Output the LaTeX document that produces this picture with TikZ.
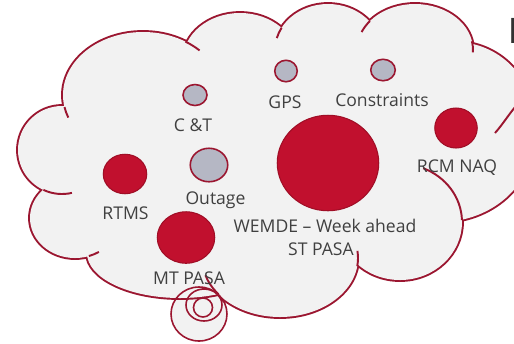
\documentclass[tikz,border=0pt]{standalone}
\usepackage{fontspec}
\setmainfont{Open Sans}
\usetikzlibrary{shapes.geometric}

\definecolor{cloudline}{RGB}{155,22,48}
\definecolor{cloudfill}{RGB}{242,242,242}
\definecolor{ballred}{RGB}{193,16,46}
\definecolor{balledge}{RGB}{160,14,38}
\definecolor{ballgrey}{RGB}{181,183,196}
\definecolor{labelgrey}{RGB}{64,64,64}

% the bumps of the cloud, in pixels (y downwards)
\newcommand\cloudbumps{
  (62,150) circle[radius=44]
  (75,218) ellipse[x radius=45, y radius=40]
  (143,95) ellipse[x radius=80, y radius=63]
  (240,60) ellipse[x radius=57, y radius=47]
  (328,50) ellipse[x radius=53, y radius=46]
  (415,50) ellipse[x radius=58, y radius=46]
  (455,121) circle[radius=79]
  (440,140) ellipse[x radius=93, y radius=82]
  (400,222) ellipse[x radius=62, y radius=58]
  (280,258) ellipse[x radius=78, y radius=59]
  (180,253) ellipse[x radius=93, y radius=45]
}
\newcommand\puffs{
  (199,314) ellipse[x radius=28, y radius=27]
  (204,305) ellipse[x radius=18, y radius=16]
  (203,307.5) circle[radius=9.5]
}

\tikzset{
  bump/.style={draw=cloudline, line width=2.2pt},
  stub/.style={draw=cloudline, line width=1.1pt},
  puff/.style={draw=cloudline, line width=0.9pt},
  redball/.style={ellipse, draw=balledge, fill=ballred, line width=0.6pt, inner sep=0pt},
  greyball/.style={ellipse, draw=cloudline, fill=ballgrey, line width=0.9pt, inner sep=0pt},
  lbl/.style={anchor=base, text=labelgrey, inner sep=0pt, font=\fontsize{10}{12}\selectfont},
}

\begin{document}
\begin{tikzpicture}[x=0.02cm, y=-0.02cm]
\useasboundingbox (0,0) rectangle (514,343);

% cloud: outer half of a wide stroke is left after the fill
\fill[cloudfill] \puffs;
\draw[bump] \cloudbumps;
\fill[cloudfill] \cloudbumps;
\fill[cloudfill] (43,188) -- (64,107) -- (185,42) -- (282,28) -- (370,21) -- (472,43)
  -- (500,100) -- (461,220) -- (357,264) -- (218,294) -- (88,257) -- cycle;
\draw[puff] \puffs;

% inner strokes of the cloud
\draw[stub] (62,150) ++(115:44) arc[start angle=115, end angle=77, radius=44];
\draw[stub] (143,95) ++(169:80 and 63) arc[start angle=169, end angle=159, x radius=80, y radius=63];
\draw[stub] (143,95) ++(-58:80 and 63) arc[start angle=-58, end angle=-45, x radius=80, y radius=63];
\draw[stub] (328,50) ++(209:53 and 46) arc[start angle=209, end angle=195, x radius=53, y radius=46];
\draw[stub] (415,50) ++(219:58 and 46) arc[start angle=219, end angle=203, x radius=58, y radius=46];
\draw[stub] (415,50) ++(-11:58 and 46) arc[start angle=-11, end angle=3, x radius=58, y radius=46];
\draw[stub] (495,133) .. controls (503,124) and (509,114) .. (516,106);
\draw[stub] (400,222) ++(-68:62 and 58) arc[start angle=-68, end angle=-2, x radius=62, y radius=58];
\draw[stub] (280,258) ++(-7:78 and 59) arc[start angle=-7, end angle=8, x radius=78, y radius=59];
\draw[stub] (280,258) ++(142:78 and 59) arc[start angle=142, end angle=163, x radius=78, y radius=59];
\draw[stub] (75,218) ++(72:45 and 40) arc[start angle=72, end angle=58, x radius=45, y radius=40];

% bubbles
\node[greyball, minimum width=0.48cm, minimum height=0.42cm] (ct) at (195,95) {};
\node[greyball, minimum width=0.45cm, minimum height=0.43cm] (gps) at (286,71) {};
\node[greyball, minimum width=0.49cm, minimum height=0.43cm] (constraints) at (383,70) {};
\node[greyball, minimum width=0.75cm, minimum height=0.67cm] (outage) at (209,165) {};
\node[redball, minimum width=0.87cm, minimum height=0.79cm] (rtms) at (125,174) {};
\node[redball, minimum width=0.85cm, minimum height=0.80cm] (rcm) at (456,128) {};
\node[redball, minimum width=2.03cm, minimum height=1.91cm] (wemde) at (328,163) {};
\node[redball, minimum width=1.15cm, minimum height=1.03cm] (mtpasa) at (186,237.5) {};

% labels
\node[lbl] (ctlbl) at (193,131.5) {C \&T};
\node[lbl] (gpslbl) at (285,108) {GPS};
\node[lbl] (constraintslbl) at (382,106) {Constraints};
\node[lbl] (rcmlbl) at (457,172) {RCM NAQ};
\node[lbl] (rtmslbl) at (125.5,219) {RTMS};
\node[lbl] (outagelbl) at (215.5,204) {Outage};
\node[lbl] (wemdelbl) at (325,232) {WEMDE -- Week ahead};
\node[lbl] (stpasalbl) at (321,255) {ST PASA};
\node[lbl] (mtpasalbl) at (189,284) {MT PASA};

% cut-off title letter
\node[anchor=base west, inner sep=0pt, text={rgb,255:red,50;green,50;blue,50},
  font=\fontsize{20}{24}\selectfont] (title) at (507.5,43) {P};
\end{tikzpicture}
\end{document}
